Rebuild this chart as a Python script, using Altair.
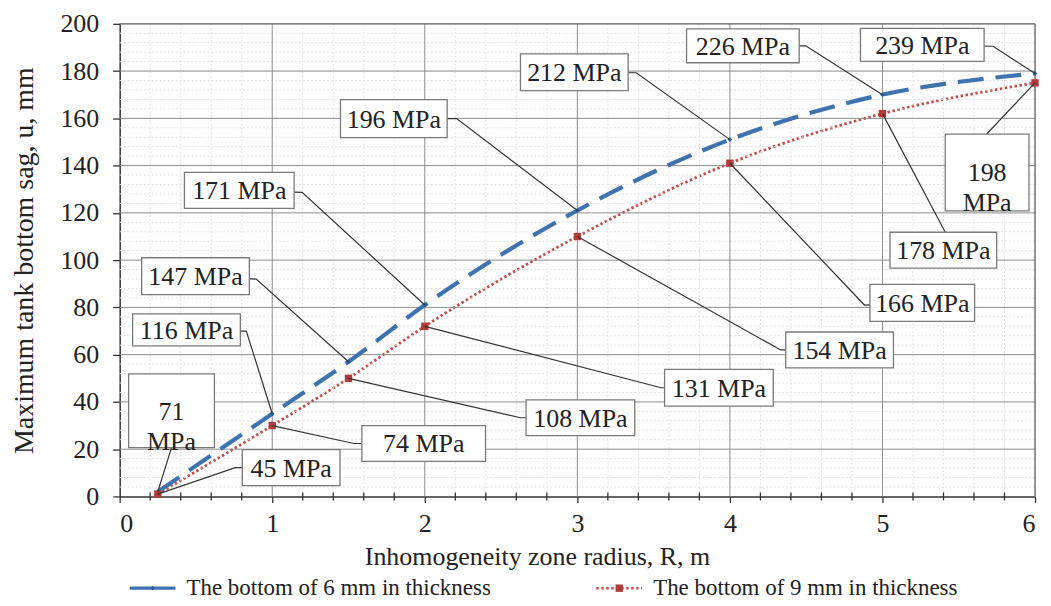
import altair as alt
import pandas as pd

# ---------------- data ----------------
radius = [0.25, 1, 1.5, 2, 3, 4, 5, 6]
sag_6mm = [2, 35, 57, 81, 121, 151, 170, 179]
sag_9mm = [1, 30, 50, 72, 110, 141, 162, 175]
series_names = ["The bottom of 6 mm in thickness", "The bottom of 9 mm in thickness"]

stress_6mm = ["71\nMPa", "116 MPa", "147 MPa", "171 MPa", "196 MPa", "212 MPa", "226 MPa", "239 MPa"]
stress_9mm = ["45 MPa", "74 MPa", "108 MPa", "131 MPa", "154 MPa", "166 MPa", "178 MPa", "198\nMPa"]

# annotation layout: box centres (data units), box sizes (px), leader elbows (data units)
lab6_x = [0.340, 0.438, 0.497, 0.784, 1.797, 2.980, 4.085, 5.261]
lab6_y = [36.3, 70.5, 93.2, 129.5, 159.9, 179.5, 190.7, 191.1]
lab6_w = [86, 108, 108, 110, 107, 108, 113, 124]
lab6_h = [74, 32, 37, 36, 38, 37, 34, 33]
elb6_x = [0.340, 0.830, 0.895, 1.196, 2.209, 3.386, 4.497, 5.725]
elb6_y = [20.7, 70.0, 92.0, 128.7, 159.9, 179.3, 190.7, 190.5]

lab9_x = [1.124, 1.993, 3.020, 3.928, 4.719, 5.261, 5.399, 5.686]
lab9_y = [12.2, 22.4, 33.3, 46.0, 62.0, 81.9, 104.2, 137.1]
lab9_w = [98, 124, 109, 109, 108, 105, 107, 84]
lab9_h = [36, 36, 36, 37, 36, 37, 36, 77]
elb9_x = [0.758, 1.536, 2.627, 3.549, 4.333, 4.882, 5.412, 5.686]
elb9_y = [12.2, 22.4, 33.3, 46.0, 62.0, 81.0, 111.8, 153.6]

x_labels = [0, 1, 2, 3, 4, 5, 6]
y_ticks = list(range(0, 201, 20))
x_major = [1, 2, 3, 4, 5]
y_major = list(range(20, 181, 20))
x_minor = [round(i * 0.2, 1) for i in range(31) if i % 5 != 0]
y_minor = [v for v in range(4, 200, 4) if v % 20 != 0]

x_title = "Inhomogeneity zone radius, R, m"
y_title = "Maximum tank bottom sag, u, mm"

# ---------------- layout ----------------
PLOT_W, PLOT_H = 918, 474
X_MAX, Y_MAX = 6, 200
PX_X = PLOT_W / X_MAX
PX_Y = PLOT_H / Y_MAX

BLUE = "#3f73b0"
RED = "#c0504d"
BLUE_PT = "#2c5d96"
RED_PT = "#b23a38"
FONT = "Liberation Serif"
TXT = "#222222"

# ---------------- tables ----------------
lines_df = pd.DataFrame({
    "R": radius * 2,
    "u": sag_6mm + sag_9mm,
    "series": [series_names[0]] * len(radius) + [series_names[1]] * len(radius),
})

labels = []
leaders = []
for i in range(len(radius)):
    for s, (lx, ly, lw, lh, ex, ey, txt, ty) in enumerate([
        (lab6_x[i], lab6_y[i], lab6_w[i], lab6_h[i], elb6_x[i], elb6_y[i], stress_6mm[i], sag_6mm[i]),
        (lab9_x[i], lab9_y[i], lab9_w[i], lab9_h[i], elb9_x[i], elb9_y[i], stress_9mm[i], sag_9mm[i]),
    ]):
        lid = f"{s}-{i}"
        labels.append({
            "id": lid, "text": txt, "cx": lx, "cy": ly,
            "x1": lx - lw / 2 / PX_X, "x2": lx + lw / 2 / PX_X,
            "y1": ly - lh / 2 / PX_Y, "y2": ly + lh / 2 / PX_Y,
        })
        for k, (px, py) in enumerate([(lx, ly), (ex, ey), (radius[i], ty)]):
            leaders.append({"id": lid, "k": k, "x": px, "y": py})
labels_df = pd.DataFrame(labels)
leaders_df = pd.DataFrame(leaders)

xs = alt.Scale(domain=[0, X_MAX], nice=False, zero=True)
ys = alt.Scale(domain=[0, Y_MAX], nice=False, zero=True)

x_axis = alt.Axis(
    values=x_labels, format="d", title=None,
    grid=False, tickSize=6, labelPadding=8,
)
y_axis = alt.Axis(
    values=y_ticks, format="d", title=y_title, titleFontSize=28,
    grid=False, tickSize=7, labelPadding=14, titlePadding=21,
)

color_enc = alt.Color("series:N", legend=None,
                      scale=alt.Scale(domain=series_names, range=[BLUE, RED]))
dash_enc = alt.StrokeDash("series:N", legend=None,
                          scale=alt.Scale(domain=series_names, range=[[26, 12], [2.5, 2.5]]))

base = alt.Chart(lines_df)
line9 = base.transform_filter(alt.datum.series == series_names[1]).mark_line(
    interpolate="monotone", strokeWidth=2.8
).encode(
    x=alt.X("R:Q", scale=xs, axis=x_axis),
    y=alt.Y("u:Q", scale=ys, axis=y_axis),
    color=color_enc, strokeDash=dash_enc,
)
line6 = base.transform_filter(alt.datum.series == series_names[0]).mark_line(
    interpolate="monotone", strokeWidth=4.2
).encode(
    x=alt.X("R:Q", scale=xs),
    y=alt.Y("u:Q", scale=ys),
    color=color_enc, strokeDash=dash_enc,
)
pts = base.mark_point(filled=True, opacity=1).encode(
    x=alt.X("R:Q", scale=xs),
    y=alt.Y("u:Q", scale=ys),
    fill=alt.Fill("series:N", legend=None,
                  scale=alt.Scale(domain=series_names, range=[BLUE_PT, RED_PT])),
    shape=alt.Shape("series:N", legend=None,
                    scale=alt.Scale(domain=series_names, range=["diamond", "square"])),
    size=alt.Size("series:N", legend=None,
                  scale=alt.Scale(domain=series_names, range=[22, 55])),
)

# ---------------- grid ----------------
minor_v = alt.Chart(pd.DataFrame({"g": x_minor})).mark_rule(
    color="#e2e2e2", strokeWidth=1, strokeDash=[2, 2]
).encode(x=alt.X("g:Q", scale=xs))
minor_h = alt.Chart(pd.DataFrame({"g": y_minor})).mark_rule(
    color="#e2e2e2", strokeWidth=1, strokeDash=[2, 2]
).encode(y=alt.Y("g:Q", scale=ys))
major_v = alt.Chart(pd.DataFrame({"g": x_major})).mark_rule(
    color="#8c8c8c", strokeWidth=1
).encode(x=alt.X("g:Q", scale=xs))
major_h = alt.Chart(pd.DataFrame({"g": y_major})).mark_rule(
    color="#8c8c8c", strokeWidth=1
).encode(y=alt.Y("g:Q", scale=ys))
border_v = alt.Chart(pd.DataFrame({"g": [X_MAX]})).mark_rule(
    color="#5a5a5a", strokeWidth=1.3
).encode(x=alt.X("g:Q", scale=xs))
border_h = alt.Chart(pd.DataFrame({"g": [Y_MAX]})).mark_rule(
    color="#5a5a5a", strokeWidth=1.3
).encode(y=alt.Y("g:Q", scale=ys))
minor_ticks = alt.Chart(pd.DataFrame({"g": x_minor})).mark_rule(
    color="#333333", strokeWidth=1.3
).encode(x=alt.X("g:Q", scale=xs), y=alt.value(PLOT_H - 4), y2=alt.value(PLOT_H + 4))

# ---------------- annotations ----------------
leader_lines = alt.Chart(leaders_df).mark_line(color="#333333", strokeWidth=1.2).encode(
    x=alt.X("x:Q", scale=xs),
    y=alt.Y("y:Q", scale=ys),
    detail="id:N",
    order="k:Q",
)
boxes = alt.Chart(labels_df).mark_rect(
    fill="white", stroke="#7a7a7a", strokeWidth=1.3
).encode(
    x=alt.X("x1:Q", scale=xs), x2="x2:Q",
    y=alt.Y("y1:Q", scale=ys), y2="y2:Q",
)
texts = alt.Chart(labels_df).mark_text(
    font=FONT, fontSize=26, color=TXT, lineBreak="\n", lineHeight=30,
    align="center", baseline="middle", dy=1,
).encode(
    x=alt.X("cx:Q", scale=xs),
    y=alt.Y("cy:Q", scale=ys),
    text="text:N",
)

# ---------------- x title and legend (pixel placed) ----------------
xtitle = alt.Chart(pd.DataFrame({"t": [x_title]})).mark_text(
    font=FONT, fontSize=26, color=TXT, align="center", baseline="middle"
).encode(x=alt.value(419), y=alt.value(535), text="t:N")

LEG_Y = 566
leg_layers = []
for name, x0, col, ptcol, dash, sw, shp, sz in [
    (series_names[0], 10, BLUE, BLUE_PT, [40, 0.01], 3.2, "diamond", 22),
    (series_names[1], 478, RED, RED_PT, [2.5, 2.5], 2.6, "square", 55),
]:
    ldf = pd.DataFrame({"t": [name]})
    leg_layers.append(alt.Chart(ldf).mark_rule(color=col, strokeWidth=sw, strokeDash=dash).encode(
        x=alt.value(x0), x2=alt.value(x0 + 46), y=alt.value(LEG_Y)))
    leg_layers.append(alt.Chart(ldf).mark_point(filled=True, opacity=1, color=ptcol, shape=shp, size=sz).encode(
        x=alt.value(x0 + 23), y=alt.value(LEG_Y)))
    leg_layers.append(alt.Chart(ldf).mark_text(
        font=FONT, fontSize=23, color=TXT, align="left", baseline="middle"
    ).encode(x=alt.value(x0 + 57), y=alt.value(LEG_Y), text="t:N"))

chart = alt.layer(
    line9, minor_v, minor_h, major_v, major_h, border_v, border_h, minor_ticks,
    line6, pts, leader_lines, boxes, texts, xtitle, *leg_layers,
).properties(
    width=PLOT_W, height=PLOT_H,
    autosize=alt.AutoSizeParams(type="none"),
    padding={"left": 112, "top": 15, "right": 8, "bottom": 108},
).configure(
    font=FONT,
).configure_view(
    stroke=None,
).configure_axis(
    labelFont=FONT, titleFont=FONT, labelFontSize=26, titleFontSize=26,
    titleFontWeight="normal", labelColor=TXT, titleColor=TXT,
    domainColor="#333333", tickColor="#333333", domainWidth=1.5, tickWidth=1.3,
)

chart.save("out.html", embed_options={"renderer": "svg", "actions": False})
